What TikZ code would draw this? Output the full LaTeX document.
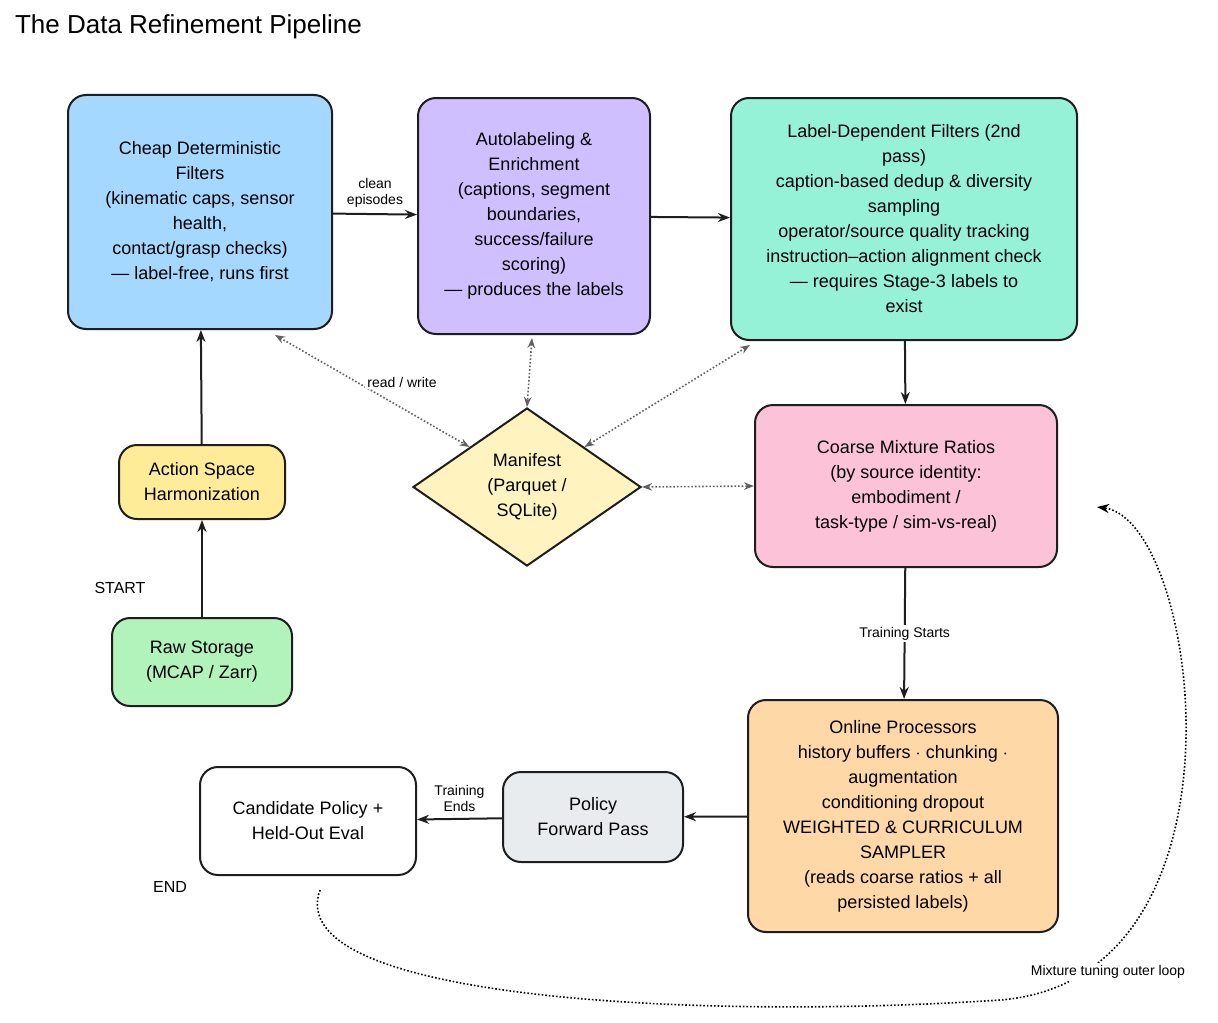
\documentclass[tikz,border=0pt]{standalone}
\usepackage{fontspec}
\setmainfont{Liberation Sans}
\usetikzlibrary{shapes.geometric,patterns,arrows.meta}
\definecolor{cblue}{HTML}{A5D8FF}
\definecolor{cpurple}{HTML}{D0BFFF}
\definecolor{cgreen}{HTML}{96F2D7}
\definecolor{cpink}{HTML}{FCC2D7}
\definecolor{cyellow}{HTML}{FFEC99}
\definecolor{cdiamond}{HTML}{FFF3BF}
\definecolor{craw}{HTML}{B2F2BB}
\definecolor{corange}{HTML}{FFD8A8}
\definecolor{cgrey}{HTML}{E9ECEF}
\definecolor{cline}{HTML}{1E1E1E}
\tikzset{
  stage/.style={draw=cline, line width=1pt, rounded corners=9pt, align=center,
    font=\fontsize{9}{12.5}\selectfont, inner sep=3pt},
  flow/.style={-{Stealth[length=6pt]}, line width=1pt, draw=cline},
  io/.style={{Stealth[length=5pt]}-{Stealth[length=5pt]}, densely dotted, line width=0.8pt, draw=cline!70},
  lbl/.style={font=\fontsize{7}{8}\selectfont, align=center, fill=white, inner sep=1pt}
}
\begin{document}
\begin{tikzpicture}[x=0.5pt, y=-0.5pt]
  \useasboundingbox (0,0) rectangle (1218,1022);
  \node[anchor=west, font=\fontsize{13}{15}\selectfont] (title) at (8,27) {The Data Refinement Pipeline};
  % stages
  \node[stage, fill=cblue, minimum width=132pt, minimum height=117pt] (filters) at (200,212)
    {Cheap Deterministic\\Filters\\(kinematic caps, sensor\\health,\\contact/grasp checks)\\--- label-free, runs first};
  \node[stage, fill=cpurple, minimum width=116pt, minimum height=118pt] (autolabel) at (534,216)
    {Autolabeling \&\\Enrichment\\(captions, segment\\boundaries,\\success/failure\\scoring)\\--- produces the labels};
  \node[stage, fill=cgreen, minimum width=173pt, minimum height=121pt] (labeldep) at (904,219)
    {Label-Dependent Filters (2nd\\pass)\\caption-based dedup \& diversity\\sampling\\operator/source quality tracking\\instruction--action alignment check\\--- requires Stage-3 labels to\\exist};
  \node[stage, fill=cpink, minimum width=151pt, minimum height=81pt] (mixture) at (906,486)
    {Coarse Mixture Ratios\\(by source identity:\\embodiment /\\task-type / sim-vs-real)};
  \node[diamond, draw=cline, line width=1pt, fill=cdiamond, minimum width=114pt, minimum height=79pt,
    align=center, font=\fontsize{9}{12.5}\selectfont, inner sep=0pt, aspect=1.45] (manifest) at (527,487)
    {Manifest\\(Parquet /\\SQLite)};
  \node[stage, fill=cyellow, minimum width=83pt, minimum height=37pt] (action) at (202,482)
    {Action Space\\Harmonization};
  \node[stage, fill=craw, minimum width=90pt, minimum height=44pt] (raw) at (202,662)
    {Raw Storage\\(MCAP / Zarr)};
  \node[stage, fill=corange, minimum width=155pt, minimum height=116pt] (online) at (903,816)
    {Online Processors\\history buffers $\cdot$ chunking $\cdot$\\augmentation\\conditioning dropout\\WEIGHTED \& CURRICULUM\\SAMPLER\\(reads coarse ratios + all\\persisted labels)};
  \node[stage, fill=cgrey, minimum width=90pt, minimum height=45pt] (policy) at (593,817)
    {Policy\\Forward Pass};
  \node[stage, fill=white, minimum width=108pt, minimum height=54pt] (candidate) at (308,821)
    {Candidate Policy +\\Held-Out Eval};
  \node[font=\fontsize{8}{10}\selectfont] (start) at (120,588) {START};
  \node[font=\fontsize{8}{10}\selectfont] (end) at (170,887) {END};
  % main flow
  \draw[flow] (raw) -- (action);
  \draw[flow] (action) -- (filters);
  \draw[flow] (filters) -- node[lbl, above=2pt] {clean\\episodes} (autolabel);
  \draw[flow] (autolabel) -- (labeldep);
  \draw[flow] (labeldep) -- (mixture);
  \draw[flow] (mixture) -- node[lbl] {Training Starts} (online);
  \draw[flow] (online) -- (policy);
  \draw[flow] (policy) -- node[lbl, above=2pt] {Training\\Ends} (candidate);
  % manifest io
  \coordinate (fcorner) at (275,335);
  \coordinate (acorner) at (532,338);
  \coordinate (gcorner) at (750,345);
  \draw[io] (fcorner) -- (manifest.north west);
  \node[lbl] (rwlbl) at (402,382) {read / write};
  \draw[io] (acorner) -- (manifest.north);
  \draw[io] (gcorner) -- (manifest.north east);
  \draw[io] (manifest.east) -- (mixture.west);
  % outer loop
  \coordinate (loopstart) at (320,890);
  \coordinate (loopend) at (1097,507);
  \draw[densely dotted, line width=0.8pt, -{Stealth[length=6pt]}] (loopstart)
    .. controls (280,1000) and (700,1020) .. (1000,1000)
    .. controls (1260,980) and (1200,520) .. (loopend);
  \node[lbl] (looplbl) at (1108,972) {Mixture tuning outer loop};
\end{tikzpicture}
\end{document}
